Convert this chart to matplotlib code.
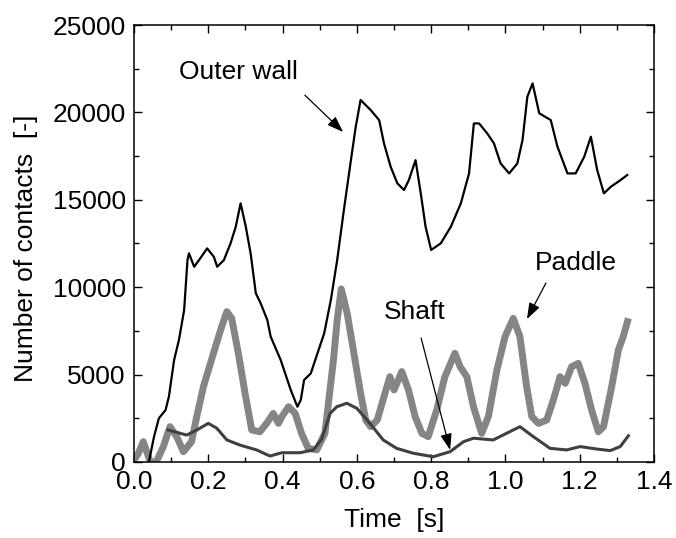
import matplotlib
matplotlib.use("Agg")
import matplotlib.pyplot as plt
from matplotlib.ticker import MultipleLocator

plt.rcParams['font.family'] = ['Liberation Sans', 'DejaVu Sans']

# Contact counts over time for each wall of the mixer
outer_t = [0.040, 0.054, 0.067, 0.085, 0.094, 0.108, 0.121, 0.135, 0.144, 0.148,
           0.162, 0.175, 0.197, 0.215, 0.224, 0.242, 0.260, 0.274, 0.287, 0.301,
           0.314, 0.328, 0.341, 0.359, 0.368, 0.395, 0.422, 0.440, 0.449, 0.458,
           0.476, 0.494, 0.512, 0.530, 0.547, 0.565, 0.584, 0.597, 0.610, 0.619,
           0.637, 0.660, 0.673, 0.691, 0.709, 0.727, 0.740, 0.758, 0.772, 0.785,
           0.800, 0.826, 0.853, 0.880, 0.902, 0.915, 0.929, 0.951, 0.969, 0.987,
           1.010, 1.032, 1.046, 1.059, 1.073, 1.091, 1.122, 1.140, 1.167, 1.189,
           1.212, 1.230, 1.247, 1.265, 1.284, 1.310, 1.328]
outer_v = [0, 1450, 2500, 2970, 3740, 5830, 6980, 8690, 11550, 11940,
           11170, 11550, 12220, 11740, 11170, 11550, 12510, 13460, 14800, 13460,
           11940, 9650, 9080, 8120, 7170, 5830, 4120, 3160, 3550, 4690,
           5070, 6220, 7360, 9270, 11550, 14410, 17270, 19180, 20710, 20520,
           20140, 19560, 18230, 16890, 15940, 15560, 16130, 17270, 15370, 13460,
           12130, 12510, 13460, 14800, 16510, 19370, 19370, 18800, 18230, 17080,
           16510, 17080, 18420, 20900, 21660, 19950, 19560, 18040, 16510, 16510,
           17460, 18610, 16700, 15370, 15750, 16130, 16420]

paddle_t = [0.000, 0.012, 0.025, 0.044, 0.060, 0.079, 0.097, 0.115, 0.133, 0.155,
            0.169, 0.187, 0.214, 0.236, 0.250, 0.263, 0.281, 0.299, 0.317, 0.339,
            0.357, 0.375, 0.389, 0.398, 0.416, 0.434, 0.451, 0.469, 0.492, 0.514,
            0.537, 0.547, 0.558, 0.574, 0.592, 0.610, 0.624, 0.637, 0.655, 0.673,
            0.689, 0.700, 0.721, 0.739, 0.757, 0.775, 0.792, 0.815, 0.837, 0.864,
            0.878, 0.896, 0.914, 0.936, 0.954, 0.977, 0.999, 1.021, 1.039, 1.057,
            1.071, 1.089, 1.111, 1.129, 1.147, 1.161, 1.178, 1.196, 1.214, 1.232,
            1.250, 1.264, 1.286, 1.304, 1.317, 1.331]
paddle_v = [100, 500, 1160, 0, 0, 880, 2020, 1450, 590, 1160,
            2600, 4310, 6220, 7740, 8600, 8220, 6220, 3930, 1830, 1730,
            2210, 2780, 2210, 2590, 3160, 2780, 1640, 780, 690, 1640,
            5830, 8120, 9900, 8500, 6220, 3930, 2400, 2020, 2400, 3740,
            4880, 4120, 5170, 4120, 2590, 1640, 1450, 2970, 4880, 6220,
            5450, 4880, 3160, 1640, 2590, 5260, 7170, 8220, 7170, 4310,
            2590, 2210, 2400, 3550, 4880, 4500, 5450, 5640, 4500, 2970,
            1730, 2020, 4310, 6410, 7170, 8220]

shaft_t = [0.092, 0.142, 0.169, 0.200, 0.223, 0.250, 0.285, 0.330, 0.366, 0.398,
           0.447, 0.483, 0.505, 0.528, 0.546, 0.573, 0.600, 0.635, 0.671, 0.707,
           0.752, 0.806, 0.851, 0.887, 0.914, 0.967, 1.003, 1.039, 1.075, 1.120,
           1.165, 1.201, 1.246, 1.282, 1.309, 1.331]
shaft_v = [1830, 1540, 1830, 2210, 1930, 1260, 970, 690, 340, 530,
           530, 690, 1300, 2780, 3160, 3360, 3070, 2210, 1260, 780,
           500, 300, 590, 1160, 1360, 1260, 1640, 2020, 1450, 780,
           690, 880, 740, 650, 880, 1500]

x_ticks = [0.0, 0.2, 0.4, 0.6, 0.8, 1.0, 1.2, 1.4]
y_ticks = [0, 5000, 10000, 15000, 20000, 25000]

fig = plt.figure(figsize=(6.76, 5.38), dpi=100)
ax = fig.add_axes([0.1982, 0.1413, 0.7693, 0.8122])

ax.plot(paddle_t, paddle_v, color='#858585', lw=5.0, solid_joinstyle='round',
        solid_capstyle='butt', zorder=2)
ax.plot(shaft_t, shaft_v, color='#404040', lw=2.2, solid_joinstyle='round', zorder=3)
ax.plot(outer_t, outer_v, color='black', lw=1.6, solid_joinstyle='round', zorder=4)

ax.set_xlim(0, 1.4)
ax.set_ylim(0, 25000)
ax.set_xticks(x_ticks)
ax.set_xticklabels([f"{v:.1f}" for v in x_ticks])
ax.set_yticks(y_ticks)
ax.set_yticklabels([str(v) for v in y_ticks])
ax.xaxis.set_minor_locator(MultipleLocator(0.1))
ax.yaxis.set_minor_locator(MultipleLocator(2500))
ax.tick_params(which='both', direction='in', top=True, right=True,
               width=1.0, labelsize=19)
ax.tick_params(which='major', length=6)
ax.tick_params(which='minor', length=3.5)
ax.tick_params(axis='x', pad=6)
ax.tick_params(axis='y', pad=6)
for s in ax.spines.values():
    s.set_linewidth(1.1)

ax.set_xlabel("Time  [s]", fontsize=19)
ax.set_ylabel("Number of contacts  [-]", fontsize=19)
ax.xaxis.set_label_coords(0.5, -0.105)
ax.yaxis.set_label_coords(-0.184, 0.49)

arrow = dict(arrowstyle='-|>,head_length=0.7,head_width=0.25', color='black',
             lw=0.9, mutation_scale=14, shrinkA=0, shrinkB=0)

ax.text(0.280, 22300, "Outer wall", fontsize=19, ha='center', va='center')
ax.annotate("", xy=(0.563, 18880), xytext=(0.460, 20990), arrowprops=arrow)

ax.text(0.757, 8580, "Shaft", fontsize=19, ha='center', va='center')
ax.annotate("", xy=(0.851, 690), xytext=(0.773, 7090), arrowprops=arrow)

ax.text(1.190, 11380, "Paddle", fontsize=19, ha='center', va='center')
ax.annotate("", xy=(1.058, 8180), xytext=(1.109, 10240), arrowprops=arrow)

fig.savefig("out.png", dpi=100)
